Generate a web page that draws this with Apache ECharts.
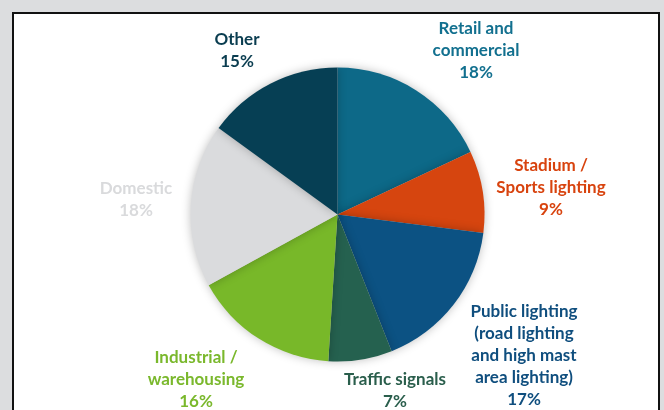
<!DOCTYPE html>
<html>
<head>
<meta charset="utf-8">
<script src="https://cdn.jsdelivr.net/npm/echarts@6/dist/echarts.min.js"></script>
<style>
html,body{margin:0;padding:0;background:#dcdddf;}
#c{width:664px;height:410px;}
</style>
</head>
<body>
<div id="c"></div>
<script>
var categories = ["Retail and\ncommercial", "Stadium /\nSports lighting", "Public lighting\n(road lighting\nand high mast\narea lighting)", "Traffic signals", "Industrial /\nwarehousing", "Domestic", "Other"];
var shares = [18, 9, 17, 7, 16, 18, 15];
var sliceColors = ["#0d6988", "#d6450f", "#0c5283", "#25614f", "#78b829", "#dadbdd", "#063f54"];
var labelColors = ["#12708f", "#d8430e", "#0f4e7e", "#2a5e4c", "#7ab82c", "#d9dadc", "#0a3d50"];
var labelPos = [[476, 51], [551, 188], [524, 356], [395, 391], [196, 380], [136, 200], [237, 51]];

var chart = echarts.init(document.getElementById('c'), null, {renderer: 'canvas'});
chart.setOption({
  backgroundColor: '#dcdddf',
  animation: false,
  graphic: [{
    type: 'rect',
    z: -10,
    shape: {x: 13, y: 13, width: 646, height: 420},
    style: {fill: '#ffffff', stroke: '#111111', lineWidth: 2}
  }],
  series: [{
    type: 'pie',
    center: [337.5, 214.5],
    radius: [0, 147],
    startAngle: 90,
    clockwise: true,
    avoidLabelOverlap: false,
    data: categories.map(function (n, i) {
      return {
        name: n,
        value: shares[i],
        itemStyle: {color: sliceColors[i]},
        label: {color: labelColors[i]}
      };
    }),
    itemStyle: {
      shadowBlur: 10,
      shadowColor: 'rgba(0,0,0,0.25)'
    },
    label: {
      show: true,
      position: 'outside',
      formatter: function (p) { return p.name + '\n' + p.value + '%'; },
      fontFamily: 'Lato',
      fontWeight: 'bold',
      fontSize: 17,
      lineHeight: 22,
      align: 'center'
    },
    labelLine: {show: false},
    labelLayout: function (params) {
      var p = labelPos[params.dataIndex];
      return {x: p[0], y: p[1], align: 'center', verticalAlign: 'middle', hideOverlap: false};
    },
    emphasis: {disabled: true}
  }]
});
</script>
</body>
</html>
